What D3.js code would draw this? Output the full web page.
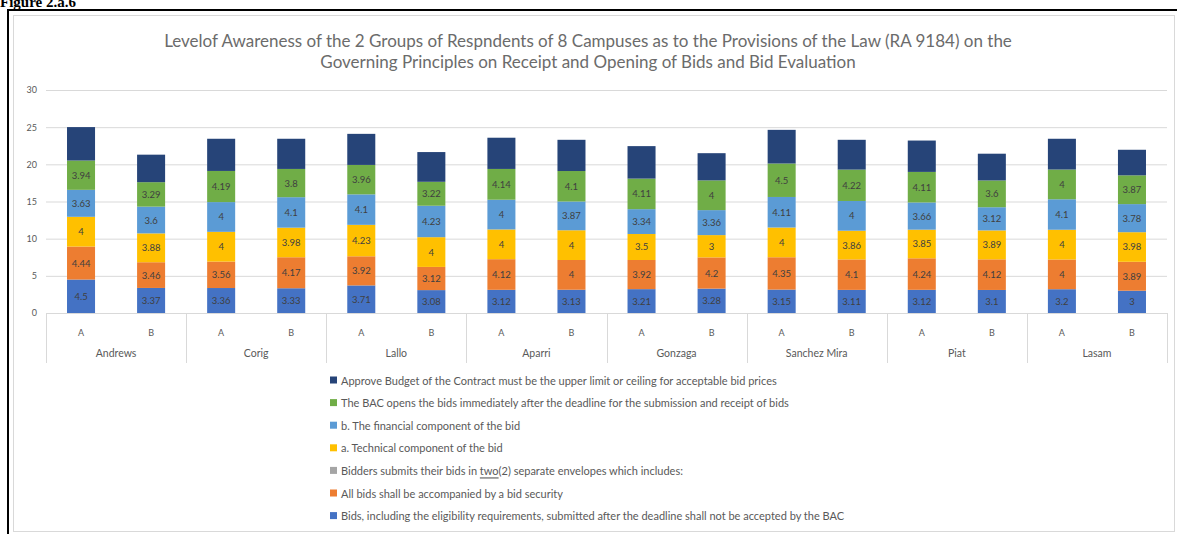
<!DOCTYPE html>
<html>
<head>
<meta charset="utf-8">
<script src="https://cdn.jsdelivr.net/npm/d3@7"></script>
<style>
  html, body { margin: 0; padding: 0; background: #fff; }
  svg { display: block; }
  text { font-family: Lato, "Open Sans", sans-serif; }
</style>
</head>
<body>
<svg id="chart" width="1177" height="534"></svg>
<script>
// Campuses, each with respondent groups A and B
const campuses = ["Andrews", "Corig", "Lallo", "Aparri", "Gonzaga", "Sanchez Mira", "Piat", "Lasam"];
const groups = ["A", "B"];

// Mean awareness scores per bar (Andrews A, Andrews B, Corig A, ...), bottom of stack first
const bidsAfterDeadline = [4.5, 3.37, 3.36, 3.33, 3.71, 3.08, 3.12, 3.13, 3.21, 3.28, 3.15, 3.11, 3.12, 3.1, 3.2, 3.0];
const bidSecurity       = [4.44, 3.46, 3.56, 4.17, 3.92, 3.12, 4.12, 4, 3.92, 4.2, 4.35, 4.1, 4.24, 4.12, 4, 3.89];
const twoEnvelopes      = [0, 0, 0, 0, 0, 0, 0, 0, 0, 0, 0, 0, 0, 0, 0, 0];
const technicalComp     = [4, 3.88, 4, 3.98, 4.23, 4, 4, 4, 3.5, 3, 4, 3.86, 3.85, 3.89, 4, 3.98];
const financialComp     = [3.63, 3.6, 4, 4.1, 4.1, 4.23, 4, 3.87, 3.34, 3.36, 4.11, 4, 3.66, 3.12, 4.1, 3.78];
const bacOpens          = [3.94, 3.29, 4.19, 3.8, 3.96, 3.22, 4.14, 4.1, 4.11, 4, 4.5, 4.22, 4.11, 3.6, 4, 3.87];
const approvedBudget    = [4.5, 3.7, 4.33, 4.06, 4.18, 4.0, 4.2, 4.2, 4.37, 3.66, 4.53, 4.01, 4.22, 3.6, 4.14, 3.44];

const yTicks = [0, 5, 10, 15, 20, 25, 30];

const seriesNames = [
  "Bids, including the eligibility requirements, submitted after the deadline shall not be accepted by the BAC",
  "All bids shall be accompanied by a bid security",
  "Bidders submits their bids in two(2) separate envelopes which includes:",
  "a.  Technical component of the bid",
  "b. The financial component of the bid",
  "The BAC opens the bids immediately after the deadline for the submission and receipt of bids",
  "Approve Budget of the Contract must be the upper limit or ceiling for acceptable bid prices"
];
const seriesValues = [bidsAfterDeadline, bidSecurity, twoEnvelopes, technicalComp, financialComp, bacOpens, approvedBudget];
const seriesColors = ["#4472C4", "#ED7D31", "#A5A5A5", "#FFC000", "#5B9BD5", "#70AD47", "#264478"];

const svg = d3.select("#chart");

// Page caption above the framed chart
svg.append("text")
  .attr("x", 0).attr("y", 7)
  .style("font-family", "'Liberation Serif', 'DejaVu Serif', serif")
  .style("font-weight", "bold").style("font-size", "15px")
  .attr("fill", "#000")
  .text("Figure 2.a.6");

// Frame: black cell border plus the chart area's own light outline
svg.append("line").attr("x1", 8).attr("x2", 8).attr("y1", 9).attr("y2", 534)
  .attr("stroke", "#000").attr("stroke-width", 2);
svg.append("line").attr("x1", 7).attr("x2", 1177).attr("y1", 10).attr("y2", 10)
  .attr("stroke", "#000").attr("stroke-width", 2);
svg.append("rect").attr("x", 13.5).attr("y", 15.5).attr("width", 1161).attr("height", 516)
  .attr("fill", "#fff").attr("stroke", "#d9d9d9").attr("stroke-width", 1);

// Title
const title = svg.append("text")
  .attr("text-anchor", "middle")
  .attr("fill", "#6b6b6b")
  .style("font-size", "17px");
title.append("tspan").attr("x", 588).attr("y", 47)
  .text("Levelof Awareness of the 2 Groups of Respndents of 8 Campuses as to the Provisions of the Law (RA 9184) on the");
title.append("tspan").attr("x", 588).attr("y", 68)
  .text("Governing Principles on Receipt and Opening of Bids and Bid Evaluation");

// Scales
const plotLeft = 46, plotRight = 1167, plotTop = 90, plotBottom = 313;
const barKeys = [];
campuses.forEach(c => groups.forEach(g => barKeys.push(c + "|" + g)));

const x = d3.scaleBand().domain(barKeys).range([plotLeft, plotRight]).paddingInner(0.6).paddingOuter(0.3);
const y = d3.scaleLinear().domain([0, 30]).range([plotBottom, plotTop]);
const xGroup = d3.scaleBand().domain(campuses).range([plotLeft, plotRight]);

// Horizontal gridlines and y labels
svg.append("g")
  .attr("transform", `translate(${plotLeft},0)`)
  .call(d3.axisLeft(y).tickValues(yTicks).tickSize(-(plotRight - plotLeft)).tickPadding(9))
  .call(g => g.select(".domain").remove())
  .call(g => g.selectAll(".tick line").attr("stroke", "#d9d9d9"))
  .call(g => g.selectAll(".tick text").attr("fill", "#595959").style("font-size", "9px").style("font-family", "Lato, sans-serif"));

// Stacked bars
const rows = barKeys.map((k, i) => {
  const r = { key: k };
  seriesValues.forEach((vals, s) => { r["s" + s] = vals[i]; });
  return r;
});
const stack = d3.stack().keys(seriesValues.map((_, s) => "s" + s));
const layers = stack(rows);

const layerG = svg.append("g").selectAll("g").data(layers).join("g")
  .attr("fill", (d, i) => seriesColors[i]);
layerG.selectAll("rect").data(d => d).join("rect")
  .attr("x", d => x(d.data.key))
  .attr("width", x.bandwidth())
  .attr("y", d => y(d[1]))
  .attr("height", d => y(d[0]) - y(d[1]));

// Segment value labels (the top series' labels sit on the dark fill and are not shown)
layers.forEach((layer, s) => {
  if (s === layers.length - 1) return;
  svg.append("g").selectAll("text").data(layer.filter(d => d[1] - d[0] > 0)).join("text")
    .attr("x", d => x(d.data.key) + x.bandwidth() / 2)
    .attr("y", d => y((d[0] + d[1]) / 2))
    .attr("text-anchor", "middle")
    .attr("dominant-baseline", "central")
    .attr("fill", "#404040")
    .style("font-size", "9.5px")
    .text(d => d3.format("~")(+(d[1] - d[0]).toFixed(2)));
});

// Category axis: baseline, group separators, group letters and campus names
svg.append("line").attr("x1", plotLeft).attr("x2", plotRight)
  .attr("y1", plotBottom + 0.5).attr("y2", plotBottom + 0.5).attr("stroke", "#d9d9d9");
const sepXs = campuses.map(c => xGroup(c)).concat([plotRight]);
svg.append("g").selectAll("line").data(sepXs).join("line")
  .attr("x1", d => Math.round(d) + 0.5).attr("x2", d => Math.round(d) + 0.5)
  .attr("y1", plotBottom).attr("y2", 363)
  .attr("stroke", "#d9d9d9");
svg.append("g").selectAll("text").data(barKeys).join("text")
  .attr("x", d => x(d) + x.bandwidth() / 2)
  .attr("y", 332)
  .attr("text-anchor", "middle").attr("dominant-baseline", "central")
  .attr("fill", "#595959").style("font-size", "9px")
  .text(d => d.split("|")[1]);
svg.append("g").selectAll("text").data(campuses).join("text")
  .attr("x", d => xGroup(d) + xGroup.bandwidth() / 2)
  .attr("y", 353)
  .attr("text-anchor", "middle").attr("dominant-baseline", "central")
  .attr("fill", "#595959").style("font-size", "10.5px")
  .text(d => d);

// Legend, top series first
const legendOrder = d3.range(seriesNames.length).reverse();
const legend = svg.append("g").selectAll("g").data(legendOrder).join("g")
  .attr("transform", (d, i) => `translate(330, ${380 + i * 22.6})`);
legend.append("rect").attr("x", 0).attr("y", -3.5).attr("width", 7).attr("height", 7)
  .attr("fill", d => seriesColors[d]);
legend.each(function (d) {
  const t = d3.select(this).append("text")
    .attr("x", 11).attr("y", 0)
    .attr("dominant-baseline", "central")
    .attr("fill", "#595959").style("font-size", "11px");
  const name = seriesNames[d];
  const m = name.indexOf("two(2)");
  if (m >= 0) {
    t.append("tspan").text(name.slice(0, m));
    t.append("tspan").style("text-decoration", "underline").text("two");
    t.append("tspan").text(name.slice(m + 3));
  } else {
    t.text(name);
  }
});
</script>
</body>
</html>
